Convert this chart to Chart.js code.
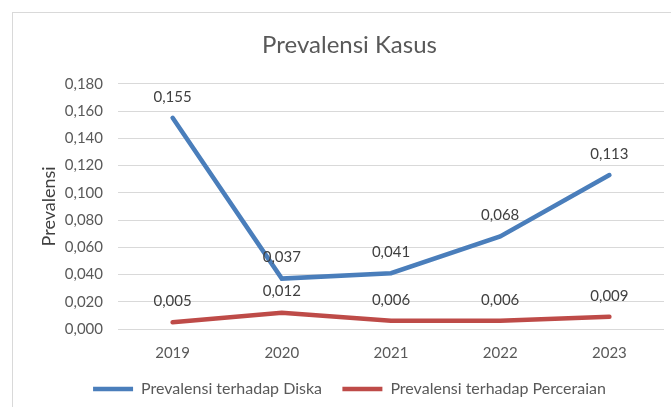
<!DOCTYPE html>
<html>
<head>
    <title>Prevalensi Kasus</title>
    <script src="https://cdn.jsdelivr.net/npm/chart.js@4.4.1/dist/chart.umd.min.js"></script>
    <style>
        body {
            margin: 0;
            background-color: white;
            font-family: Lato, sans-serif;
        }
        .wrap {
            position: relative;
            width: 671px;
            height: 407px;
            overflow: hidden;
        }
        .frame {
            position: absolute;
            left: 12px;
            top: 12px;
            width: 700px;
            height: 430px;
            border: 1px solid #d9d9d9;
        }
        canvas {
            position: absolute;
            left: 0;
            top: 0;
        }
    </style>
</head>
<body>
    <div class="wrap">
        <div class="frame"></div>
        <canvas id="prevChart" width="671" height="407"></canvas>
    </div>

    <script>
    const years = ['2019', '2020', '2021', '2022', '2023'];
    const diska = [0.155, 0.037, 0.041, 0.068, 0.113];
    const perceraian = [0.005, 0.012, 0.006, 0.006, 0.009];
    const yTicks = [0, 0.02, 0.04, 0.06, 0.08, 0.1, 0.12, 0.14, 0.16, 0.18];

    const fmt = v => v.toFixed(3).replace('.', ',');

    // label angka di atas titik
    const pointLabels = {
        id: 'pointLabels',
        afterDatasetsDraw(chart) {
            const ctx = chart.ctx;
            ctx.save();
            ctx.font = '15px Lato';
            ctx.fillStyle = '#404040';
            ctx.textAlign = 'center';
            ctx.textBaseline = 'middle';
            chart.data.datasets.forEach((ds, i) => {
                chart.getDatasetMeta(i).data.forEach((pt, j) => {
                    ctx.fillText(fmt(ds.data[j]), pt.x, pt.y - 21);
                });
            });
            ctx.restore();
        }
    };

    const ctx = document.getElementById('prevChart').getContext('2d');
    new Chart(ctx, {
        type: 'line',
        data: {
            labels: years,
            datasets: [{
                label: 'Prevalensi terhadap Diska',
                data: diska,
                borderColor: '#4a7ebb',
                backgroundColor: '#4a7ebb',
                borderWidth: 4.5,
                borderCapStyle: 'round',
                pointRadius: 0,
                tension: 0
            }, {
                label: 'Prevalensi terhadap Perceraian',
                data: perceraian,
                borderColor: '#be4b48',
                backgroundColor: '#be4b48',
                borderWidth: 4.5,
                borderCapStyle: 'round',
                pointRadius: 0,
                tension: 0
            }]
        },
        options: {
            responsive: false,
            animation: false,
            layout: {
                padding: { left: 35, right: 7, top: 0, bottom: 0 }
            },
            plugins: {
                title: {
                    display: true,
                    text: 'Prevalensi Kasus',
                    color: '#595959',
                    font: { family: 'Lato', size: 24, weight: 'normal' },
                    padding: { top: 31, bottom: 24 }
                },
                legend: {
                    position: 'bottom',
                    labels: {
                        color: '#595959',
                        font: { family: 'Lato', size: 16 },
                        usePointStyle: true,
                        pointStyle: 'line',
                        pointStyleWidth: 40,
                        padding: 4,
                        // jarak antar item legend lebih lebar
                        generateLabels: chart => {
                            const items = Chart.defaults.plugins.legend.labels.generateLabels(chart);
                            items[0].text += '    ';
                            return items;
                        }
                    }
                },
                tooltip: { enabled: false }
            },
            scales: {
                x: {
                    offset: true,
                    grid: { display: false, drawTicks: false },
                    border: { display: false },
                    ticks: {
                        color: '#595959',
                        font: { family: 'Lato', size: 15 },
                        padding: 15
                    }
                },
                y: {
                    min: 0,
                    max: 0.18,
                    afterBuildTicks: s => { s.ticks = yTicks.map(v => ({ value: v })); },
                    afterFit: s => { s.width = 83; },
                    grid: { color: '#d9d9d9', lineWidth: 1, drawTicks: false },
                    border: { display: false },
                    ticks: {
                        color: '#595959',
                        font: { family: 'Lato', size: 15 },
                        padding: 15,
                        callback: v => fmt(v)
                    },
                    title: {
                        display: true,
                        text: 'Prevalensi',
                        color: '#404040',
                        font: { family: 'Lato', size: 18 },
                        padding: { top: 3, bottom: 0 }
                    }
                }
            }
        },
        plugins: [pointLabels]
    });
    </script>
</body>
</html>
